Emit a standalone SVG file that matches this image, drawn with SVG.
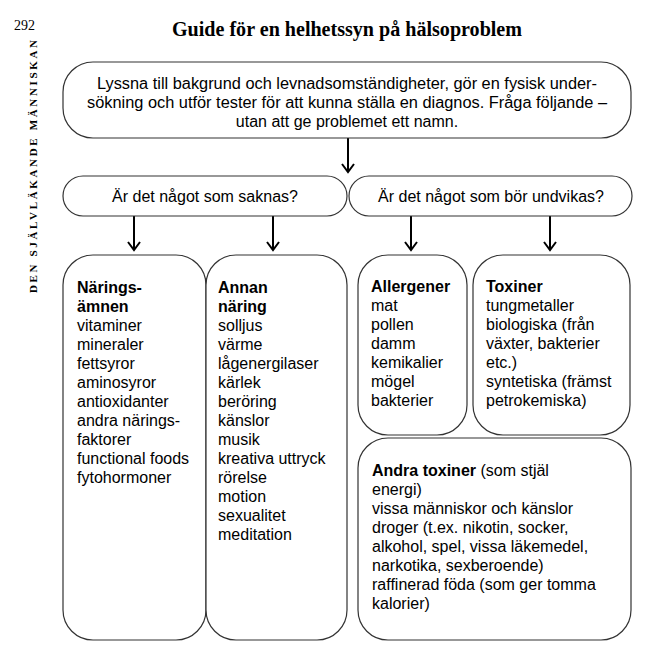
<svg xmlns="http://www.w3.org/2000/svg" width="663" height="664" viewBox="0 0 663 664">
<style>
.box{fill:#fff;stroke:#333;stroke-width:1.2}
.t{font-family:"Liberation Sans",Arial,sans-serif;font-size:16px;fill:#000}
.b{font-weight:bold}
.c{text-anchor:middle}
.conn{stroke:#000;stroke-width:2;fill:none}
.serif{font-family:"Liberation Serif","Times New Roman",serif;fill:#000}
</style>
<defs>
<marker id="ah" markerWidth="12" markerHeight="16" viewBox="-10 -8 12 16" refX="0" refY="0" orient="auto" markerUnits="userSpaceOnUse">
<path d="M-8,-6 L0,0 L-8,6" fill="none" stroke="#000" stroke-width="2"/>
</marker>
</defs>
<rect width="663" height="664" fill="#fff"/>
<text class="serif" x="14" y="30" font-size="14">292</text>
<text class="serif" x="347" y="36" font-size="20" font-weight="bold" text-anchor="middle" textLength="350" lengthAdjust="spacingAndGlyphs">Guide för en helhetssyn på hälsoproblem</text>
<text class="serif" transform="translate(37,293) rotate(-90)" font-size="11" font-weight="bold" textLength="253" lengthAdjust="spacing">DEN  SJÄLVLÄKANDE  MÄNNISKAN</text>

<g id="connectors">
<line class="conn" x1="348" y1="138" x2="348" y2="172" marker-end="url(#ah)"/>
<line class="conn" x1="134" y1="216" x2="134" y2="250" marker-end="url(#ah)"/>
<line class="conn" x1="273" y1="216" x2="273" y2="250" marker-end="url(#ah)"/>
<line class="conn" x1="411" y1="216" x2="411" y2="250" marker-end="url(#ah)"/>
<line class="conn" x1="550" y1="216" x2="550" y2="250" marker-end="url(#ah)"/>
</g>

<g id="start">
<rect class="box" x="63" y="62" width="568" height="76" rx="30"/>
<text class="t c" x="347" y="89" textLength="500" lengthAdjust="spacingAndGlyphs">Lyssna till bakgrund och levnadsomständigheter, gör en fysisk under-</text>
<text class="t c" x="347" y="108" textLength="520" lengthAdjust="spacingAndGlyphs">sökning och utför tester för att kunna ställa en diagnos. Fråga följande –</text>
<text class="t c" x="347" y="127">utan att ge problemet ett namn.</text>
</g>

<g id="q-saknas">
<rect class="box" x="63" y="176" width="284" height="40" rx="20"/>
<text class="t c" x="205" y="202">Är det något som saknas?</text>
</g>
<g id="q-undvikas">
<rect class="box" x="349" y="176" width="283" height="40" rx="20"/>
<text class="t c" x="491" y="202">Är det något som bör undvikas?</text>
</g>

<g id="naringsamnen">
<rect class="box" x="63" y="255" width="143" height="385" rx="30"/>
<text class="t" x="77" y="293"><tspan class="b">Närings-</tspan><tspan class="b" x="77" dy="19">ämnen</tspan><tspan x="77" dy="19">vitaminer</tspan><tspan x="77" dy="19">mineraler</tspan><tspan x="77" dy="19">fettsyror</tspan><tspan x="77" dy="19">aminosyror</tspan><tspan x="77" dy="19">antioxidanter</tspan><tspan x="77" dy="19">andra närings-</tspan><tspan x="77" dy="19">faktorer</tspan><tspan x="77" dy="19">functional foods</tspan><tspan x="77" dy="19">fytohormoner</tspan></text>
</g>

<g id="annan-naring">
<rect class="box" x="206" y="255" width="141" height="385" rx="30"/>
<text class="t" x="218" y="293"><tspan class="b">Annan</tspan><tspan class="b" x="218" dy="19">näring</tspan><tspan x="218" dy="19">solljus</tspan><tspan x="218" dy="19">värme</tspan><tspan x="218" dy="19">lågenergilaser</tspan><tspan x="218" dy="19">kärlek</tspan><tspan x="218" dy="19">beröring</tspan><tspan x="218" dy="19">känslor</tspan><tspan x="218" dy="19">musik</tspan><tspan x="218" dy="19">kreativa uttryck</tspan><tspan x="218" dy="19">rörelse</tspan><tspan x="218" dy="19">motion</tspan><tspan x="218" dy="19">sexualitet</tspan><tspan x="218" dy="19">meditation</tspan></text>
</g>

<g id="allergener">
<rect class="box" x="358" y="255" width="109" height="180" rx="30"/>
<text class="t" x="371" y="292"><tspan class="b">Allergener</tspan><tspan x="371" dy="19">mat</tspan><tspan x="371" dy="19">pollen</tspan><tspan x="371" dy="19">damm</tspan><tspan x="371" dy="19">kemikalier</tspan><tspan x="371" dy="19">mögel</tspan><tspan x="371" dy="19">bakterier</tspan></text>
</g>

<g id="toxiner">
<rect class="box" x="473" y="255" width="157" height="180" rx="30"/>
<text class="t" x="486" y="292"><tspan class="b">Toxiner</tspan><tspan x="486" dy="19">tungmetaller</tspan><tspan x="486" dy="19">biologiska (från</tspan><tspan x="486" dy="19">växter, bakterier</tspan><tspan x="486" dy="19">etc.)</tspan><tspan x="486" dy="19">syntetiska (främst</tspan><tspan x="486" dy="19">petrokemiska)</tspan></text>
</g>

<g id="andra-toxiner">
<rect class="box" x="358" y="438" width="273" height="202" rx="30"/>
<text class="t" x="372" y="476"><tspan class="b">Andra toxiner</tspan> (som stjäl<tspan x="372" dy="19">energi)</tspan><tspan x="372" dy="19">vissa människor och känslor</tspan><tspan x="372" dy="19">droger (t.ex. nikotin, socker,</tspan><tspan x="372" dy="19">alkohol, spel, vissa läkemedel,</tspan><tspan x="372" dy="19">narkotika, sexberoende)</tspan><tspan x="372" dy="19">raffinerad föda (som ger tomma</tspan><tspan x="372" dy="19">kalorier)</tspan></text>
</g>
</svg>
